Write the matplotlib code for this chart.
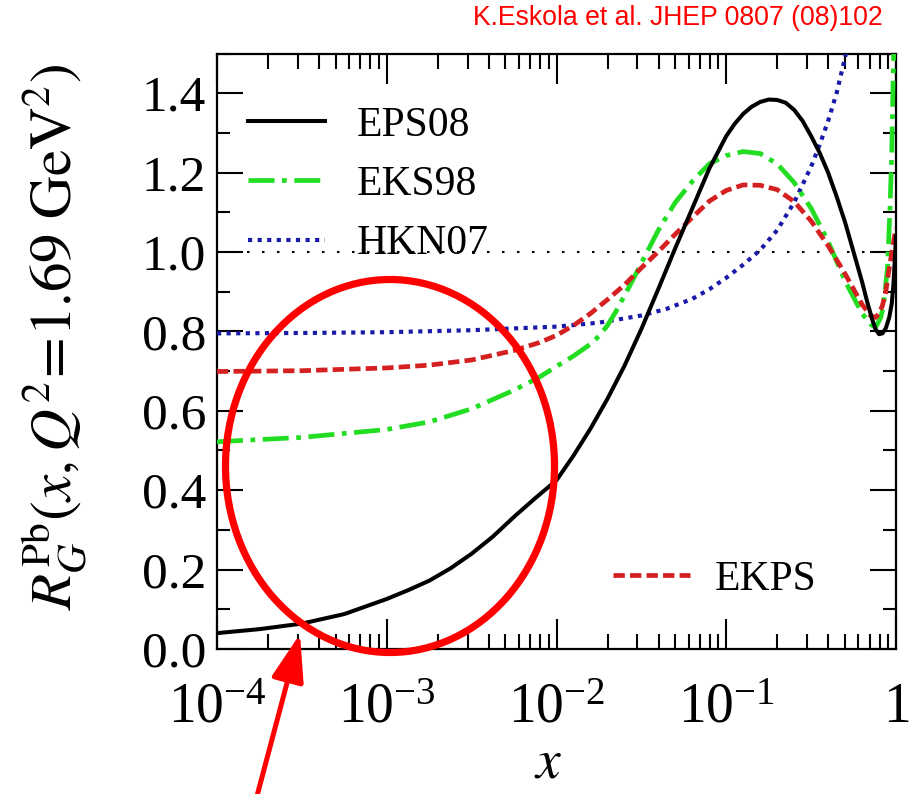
import matplotlib
matplotlib.use("Agg")
import numpy as np
import matplotlib.pyplot as plt
from matplotlib.patches import Ellipse, FancyArrowPatch
from matplotlib.ticker import LogLocator, FixedLocator, MultipleLocator, NullFormatter

plt.rcParams['font.family'] = ['Liberation Serif', 'DejaVu Serif']
plt.rcParams['mathtext.fontset'] = 'stix'

# Gluon nuclear modification R_G^Pb at Q^2 = 1.69 GeV^2, sampled in log10(x)
eps08_logx = [-4.0, -3.75, -3.5, -3.25, -3.0, -2.875, -2.75, -2.625, -2.5, -2.375, -2.25,
              -2.125, -2.0, -1.9, -1.8, -1.7, -1.6, -1.5, -1.4, -1.3, -1.2, -1.1, -1.0,
              -0.95, -0.9, -0.85, -0.8, -0.75, -0.7, -0.65, -0.6, -0.55, -0.5, -0.45,
              -0.4, -0.35, -0.3, -0.25, -0.2, -0.17, -0.14, -0.12, -0.10, -0.08, -0.06,
              -0.04, -0.025, -0.015, -0.007, 0.0]
eps08_y = [0.040, 0.050, 0.064, 0.088, 0.126, 0.148, 0.172, 0.203, 0.240, 0.283, 0.333,
           0.380, 0.425, 0.487, 0.555, 0.630, 0.713, 0.806, 0.907, 1.010, 1.110, 1.210, 1.292,
           1.323, 1.348, 1.366, 1.378, 1.384, 1.383, 1.376, 1.358, 1.330, 1.292, 1.250,
           1.200, 1.140, 1.075, 1.000, 0.925, 0.875, 0.830, 0.805, 0.793, 0.795, 0.808,
           0.835, 0.870, 0.920, 0.980, 1.040]

eks98_logx = [-4.0, -3.5, -3.0, -2.75, -2.5, -2.25, -2.1, -2.0, -1.9, -1.8, -1.75, -1.7,
              -1.65, -1.6, -1.55, -1.5, -1.4, -1.3, -1.2, -1.1, -1.0, -0.9, -0.8, -0.7,
              -0.6, -0.5, -0.4, -0.3, -0.2, -0.15, -0.12, -0.09, -0.075, -0.05, -0.035,
              -0.025, -0.016, -0.01]
eks98_y = [0.522, 0.533, 0.553, 0.572, 0.605, 0.652, 0.685, 0.712, 0.738, 0.768, 0.788, 0.815,
           0.850, 0.890, 0.930, 0.972, 1.055, 1.125, 1.178, 1.222, 1.243, 1.253, 1.248, 1.222,
           1.175, 1.110, 1.027, 0.927, 0.845, 0.818, 0.810, 0.835, 0.862, 0.960, 1.114,
           1.250, 1.450, 1.600]

hkn07_logx = [-4.0, -3.5, -3.0, -2.5, -2.0, -1.75, -1.5, -1.35, -1.2, -1.1, -1.0, -0.9,
              -0.8, -0.7, -0.6, -0.5, -0.45, -0.4, -0.35, -0.3, -0.27]
hkn07_y = [0.795, 0.796, 0.798, 0.803, 0.812, 0.822, 0.840, 0.857, 0.882, 0.906, 0.935, 0.968,
           1.005, 1.055, 1.125, 1.215, 1.270, 1.330, 1.400, 1.490, 1.550]

ekps_logx = [-4.0, -3.5, -3.0, -2.75, -2.5, -2.25, -2.1, -2.0, -1.9, -1.8, -1.7, -1.6,
             -1.5, -1.4, -1.3, -1.2, -1.1, -1.0, -0.9, -0.8, -0.7, -0.6, -0.5, -0.4,
             -0.3, -0.2, -0.15, -0.12, -0.1, -0.08, -0.06, -0.045, -0.02, -0.006, 0.0]
ekps_y = [0.699, 0.701, 0.708, 0.715, 0.728, 0.752, 0.772, 0.790, 0.815, 0.845, 0.880, 0.917,
          0.960, 1.001, 1.045, 1.087, 1.128, 1.155, 1.169, 1.168, 1.157, 1.127, 1.078, 1.016,
          0.945, 0.868, 0.840, 0.835, 0.845, 0.865, 0.900, 0.946, 1.010, 1.047, 1.060]

x_major = [1e-4, 1e-3, 1e-2, 1e-1, 1.0]
x_labels = [r'$\mathregular{10^{-4}}$', r'$\mathregular{10^{-3}}$', r'$\mathregular{10^{-2}}$',
            r'$\mathregular{10^{-1}}$', r'$\mathregular{1}$']
y_major = [0.0, 0.2, 0.4, 0.6, 0.8, 1.0, 1.2, 1.4]
y_labels = ['0.0', '0.2', '0.4', '0.6', '0.8', '1.0', '1.2', '1.4']

W, H = 910, 794
fig = plt.figure(figsize=(W / 100, H / 100), dpi=100)
L, R, T, B = 217, 896, 53.5, 649
ax = fig.add_axes([L / W, 1 - B / H, (R - L) / W, (B - T) / H])

ax.set_xscale('log')
ax.set_xlim(1e-4, 1.0)
ax.set_ylim(0.0, 1.5)

GREEN = '#22dd22'
RED = '#d42020'
BLUE = '#1a1aa8'

ax.axhline(1.0, color='black', lw=1.5, dashes=(1.2, 6), zorder=1)

l_eps, = ax.plot(10 ** np.array(eps08_logx), eps08_y, color='black', lw=2.9,
                 solid_joinstyle='round', zorder=5)
l_eks, = ax.plot(10 ** np.array(eks98_logx), eks98_y, color=GREEN, lw=3.4,
                 dashes=(5.5, 1.6, 1.0, 1.6), zorder=4)
l_hkn, = ax.plot(10 ** np.array(hkn07_logx), hkn07_y, color=BLUE, lw=3.0,
                 dashes=(1.0, 1.3), zorder=3)
l_ekps, = ax.plot(10 ** np.array(ekps_logx), ekps_y, color=RED, lw=3.4,
                  dashes=(2.4, 1.1), zorder=4)

# axes, ticks
for sp in ax.spines.values():
    sp.set_linewidth(1.6)
ax.xaxis.set_major_locator(FixedLocator(x_major))
ax.set_xticklabels(x_labels)
ax.xaxis.set_minor_locator(LogLocator(base=10, subs=range(2, 10), numticks=20))
ax.xaxis.set_minor_formatter(NullFormatter())
ax.yaxis.set_major_locator(FixedLocator(y_major))
ax.set_yticklabels(y_labels)
ax.yaxis.set_minor_locator(MultipleLocator(0.1))

ax.tick_params(which='both', direction='in', top=True, right=True, width=1.5)
ax.tick_params(axis='x', which='major', length=21.6, pad=24, labelsize=40)
ax.tick_params(axis='x', which='minor', length=10.8)
ax.tick_params(axis='y', which='major', length=18.7, pad=8, labelsize=37)
ax.tick_params(axis='y', which='minor', length=9.4)

fig.text(55 / W, 1 - 337 / H, r'$R_G^{\rm Pb}(x,Q^2\!=\!1.69\ {\rm GeV}^2)$',
         rotation=90, ha='center', va='center', fontsize=42.5)
fig.text(548 / W, 1 - 764 / H, r'$x$', ha='center', va='center', fontsize=40)

leg1 = ax.legend([l_eps, l_eks, l_hkn], ['EPS08', 'EKS98', 'HKN07'],
                 loc='upper left', bbox_to_anchor=((248 - L) / (R - L), (B - 106) / (B - T)),
                 frameon=False, fontsize=30, handlelength=1.85, handletextpad=0.77,
                 labelspacing=0.5, borderpad=0, borderaxespad=0)
ax.add_artist(leg1)
ax.legend([l_ekps], ['EKPS'], loc='upper left',
          bbox_to_anchor=((613 - L) / (R - L), (B - 560) / (B - T)),
          frameon=False, fontsize=30, handlelength=1.85, handletextpad=0.6,
          borderpad=0, borderaxespad=0)

fig.text(883 / W, 1 - 18 / H, 'K.Eskola et al. JHEP 0807 (08)102', ha='right', va='center',
         color='red', fontsize=19.2, family=['Liberation Sans', 'DejaVu Sans'])

# highlight of the small-x region
ell = Ellipse((390 / W, 1 - 466 / H), 329 / W, 373 / H, transform=fig.transFigure,
              fill=False, edgecolor='#ff0000', lw=5.2, zorder=10)
fig.add_artist(ell)
arr = FancyArrowPatch((257 / W, 1 - 796 / H), (300 / W, 1 - 634 / H), transform=fig.transFigure,
                      arrowstyle='-|>,head_length=29,head_width=10', mutation_scale=1,
                      color='#ff0000', lw=3.6, shrinkA=0, shrinkB=0, zorder=10)
fig.add_artist(arr)

fig.savefig('out.png', dpi=100)
